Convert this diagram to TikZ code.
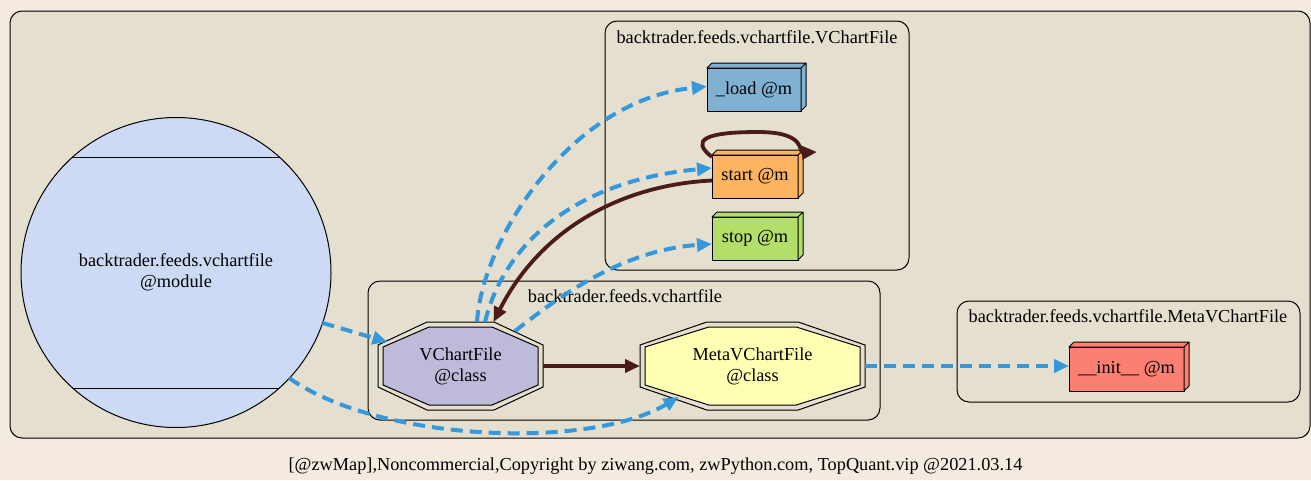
\documentclass[tikz,border=0pt]{standalone}
\usepackage{fontspec}
\setmainfont{Liberation Serif}
\usetikzlibrary{arrows.meta,calc}
\definecolor{pagebg}{HTML}{F5EAE0}
\definecolor{clusterbg}{HTML}{E5DFD0}
\definecolor{modfill}{HTML}{CCDAF5}
\definecolor{loadc}{HTML}{80B1D3}
\definecolor{startc}{HTML}{FDB462}
\definecolor{stopc}{HTML}{B3DE69}
\definecolor{initc}{HTML}{FB8072}
\definecolor{vcfill}{HTML}{BEBADA}
\definecolor{metafill}{HTML}{FFFFB3}
\definecolor{bluec}{HTML}{3498DB}
\definecolor{brownc}{HTML}{4D1B17}
\pgfdeclarelayer{bg}
\pgfdeclarelayer{mid}
\pgfsetlayers{bg,mid,main}
\tikzset{
  every node/.style={font=\fontsize{18.3}{21}\selectfont, inner sep=0pt, outer sep=0pt},
  cluster/.style={draw=black, line width=1pt, rounded corners=12pt, fill=clusterbg},
  mbox/.style={draw=black, line width=1pt, fill=#1},
  octnode/.style={align=center},
  dep/.style={draw=bluec, line width=4pt, dash pattern=on 12pt off 7pt, -{Triangle[length=15pt,width=13pt]}},
  call/.style={draw=brownc, line width=3.8pt, -{Triangle[length=15pt,width=13pt]}},
}
\newcommand\threed[2]{%
  \draw[line width=1pt, fill=#2, line join=round] (#1.north west) -- ++(5,-5) -- ([shift={(5,-5)}]#1.north east) -- ([shift={(5,-5)}]#1.south east) -- (#1.south east) -- (#1.north east) -- cycle (#1.north east) -- ++(5,-5);}
\newcommand\octdraw[3]{%
  \draw[line width=1pt,#3]
  ($(#1.north)!0.406!(#1.north east)+(-#2*0.4,#2)$) --
  ($(#1.east)!0.477!(#1.north east)+(-#2,#2*0.4)$) --
  ($(#1.east)!0.477!(#1.south east)+(-#2,-#2*0.4)$) --
  ($(#1.south)!0.406!(#1.south east)+(-#2*0.4,-#2)$) --
  ($(#1.south)!0.406!(#1.south west)+(#2*0.4,-#2)$) --
  ($(#1.west)!0.477!(#1.south west)+(#2,-#2*0.4)$) --
  ($(#1.west)!0.477!(#1.north west)+(#2,#2*0.4)$) --
  ($(#1.north)!0.406!(#1.north west)+(#2*0.4,#2)$) -- cycle;}
\newcommand\octa[2]{%
  \begin{pgfonlayer}{mid}
    \octdraw{#1}{0}{fill=none}
    \octdraw{#1}{5}{fill=#2}
  \end{pgfonlayer}}
\begin{document}
\begin{tikzpicture}[x=1pt,y=-1pt]
\useasboundingbox (0,0) rectangle (1311,480);
\begin{pgfonlayer}{bg}
  \fill[pagebg] (0,0) rectangle (1311,480);
  \draw[cluster] (10,11) rectangle (1310,438);
  \draw[cluster] (605,21) rectangle (909,270);
  \draw[cluster] (368,281) rectangle (880,420);
  \draw[cluster] (957,301) rectangle (1300,402);
\end{pgfonlayer}
% cluster labels
\node (lab1) at (757,37) {backtrader.feeds.vchartfile.VChartFile};
\node (lab2) at (625,296) {backtrader.feeds.vchartfile};
\node (lab3) at (1128,316) {backtrader.feeds.vchartfile.MetaVChartFile};
\node (foot) at (655.5,466) {[@zwMap],Noncommercial,Copyright by ziwang.com, zwPython.com, TopQuant.vip @2021.03.14};
% module
\node[draw=black, line width=1pt, circle, fill=modfill, minimum size=310pt, align=center] (mod) at (176,272.5) {backtrader.feeds.vchartfile\\@module};
\draw[line width=1pt] ($(mod.center)+(-103.4,-115.5)$) -- ($(mod.center)+(103.4,-115.5)$);
\draw[line width=1pt] ($(mod.center)+(-103.4,115.5)$) -- ($(mod.center)+(103.4,115.5)$);
% methods
\node[mbox=loadc, minimum width=94pt, minimum height=43pt] (ld) at (754,89.5) {\_load @m};
\threed{ld}{loadc}
\node[mbox=startc, minimum width=86pt, minimum height=43pt] (st) at (755,176.5) {start @m};
\threed{st}{startc}
\node[mbox=stopc, minimum width=86pt, minimum height=43pt] (sp) at (755,238.5) {stop @m};
\threed{sp}{stopc}
\node[mbox=initc, minimum width=115pt, minimum height=44pt] (in) at (1126.5,369) {\_\_init\_\_ @m};
\threed{in}{initc}
% classes
\node[octnode, minimum width=165pt, minimum height=88pt] (vc) at (460.5,366) {VChartFile\\@class};
\octa{vc}{vcfill}
\node[octnode, minimum width=225pt, minimum height=88pt] (meta) at (752.5,366) {MetaVChartFile\\@class};
\octa{meta}{metafill}
% edges
\draw[dep] (mod.-19) -- ($(vc.center)+(-73,-24)$);
\draw[dep] (mod.-43) .. controls (380,442) and (590,450) .. ($(meta.center)+(-74,31)$);
\draw[dep] ($(vc.north)+(16.5,0)$) .. controls (482,240) and (570,100) .. ($(ld.west)+(0,-3)$);
\draw[dep] ($(vc.north)+(24.5,0)$) .. controls (505,240) and (580,180) .. ($(st.west)+(0,-8.5)$);
\draw[dep] ($(vc.center)+(54.5,-35)$) .. controls (555,300) and (620,250) .. ($(sp.west)+(0,5.5)$);
\draw[call] ($(st.west)+(0,4)$) .. controls (620,185) and (540,230) .. ($(vc.north)+(33,0)$);
\coordinate (loopend) at ($(st.north east)+(19,-3)$);
\draw[call] ($(st.north west)+(0,2)$) .. controls (690,140) and (705,132) .. (758,132) .. controls (808,132) and (798,153) .. (loopend);
\draw[call] (vc.east) -- (meta.west);
\draw[dep] (meta.east) -- ($(in.west)+(0,-3)$);
\end{tikzpicture}
\end{document}
